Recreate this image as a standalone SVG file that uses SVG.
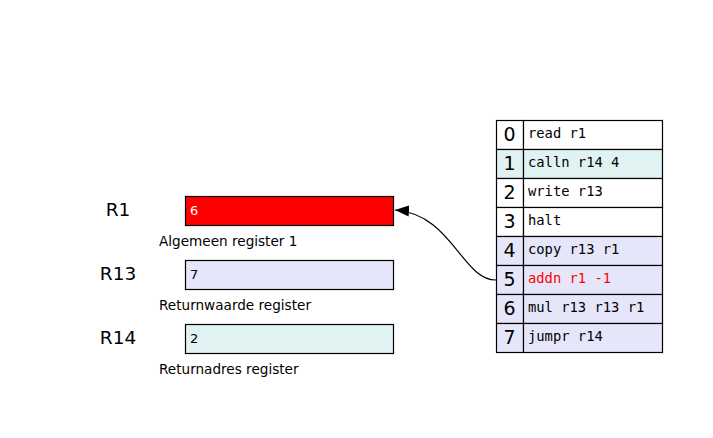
<svg xmlns="http://www.w3.org/2000/svg" width="713" height="438" viewBox="0 0 713 438">
<style>
.box{stroke:#000;stroke-width:1.2}
.reg{font-family:"DejaVu Sans",sans-serif;font-size:18.5px;fill:#000}
.cap{font-family:"DejaVu Sans",sans-serif;font-size:13.6px;fill:#000}
.val{font-family:"DejaVu Sans",sans-serif;font-size:13px;fill:#000}
.idx{font-family:"DejaVu Sans",sans-serif;font-size:19px;fill:#000;text-anchor:middle}
.code{font-family:"DejaVu Sans Mono",monospace;font-size:13.8px;fill:#000}
.w{fill:#fff}.c{fill:#e0f2f2}.l{fill:#e6e6fa}
</style>
<defs>
<marker id="ah" markerWidth="14" markerHeight="12" refX="14" refY="6" orient="auto" markerUnits="userSpaceOnUse">
<path d="M0,0.5 L14,6 L0,11.5 Z" fill="#000"/>
</marker>
</defs>
<rect width="713" height="438" fill="#fff"/>
<g id="R1">
<text class="reg" x="118" y="216" text-anchor="middle">R1</text>
<rect class="box" x="185.5" y="196.5" width="208" height="29" fill="#ff0000"/>
<text class="val" x="190" y="215" style="fill:#fff">6</text>
<text class="cap" x="159" y="246">Algemeen register 1</text>
</g>
<g id="R13">
<text class="reg" x="118" y="280" text-anchor="middle">R13</text>
<rect class="box l" x="185.5" y="260.5" width="208" height="29"/>
<text class="val" x="190" y="279">7</text>
<text class="cap" x="159" y="310">Returnwaarde register</text>
</g>
<g id="R14">
<text class="reg" x="118" y="344" text-anchor="middle">R14</text>
<rect class="box c" x="185.5" y="324.5" width="208" height="29"/>
<text class="val" x="190" y="343">2</text>
<text class="cap" x="159" y="374">Returnadres register</text>
</g>
<g id="program">
<rect class="box w" x="496.5" y="120.5" width="27" height="29"/><rect class="box w" x="523.5" y="120.5" width="139" height="29"/>
<rect class="box c" x="496.5" y="149.5" width="27" height="29"/><rect class="box c" x="523.5" y="149.5" width="139" height="29"/>
<rect class="box w" x="496.5" y="178.5" width="27" height="29"/><rect class="box w" x="523.5" y="178.5" width="139" height="29"/>
<rect class="box w" x="496.5" y="207.5" width="27" height="29"/><rect class="box w" x="523.5" y="207.5" width="139" height="29"/>
<rect class="box l" x="496.5" y="236.5" width="27" height="29"/><rect class="box l" x="523.5" y="236.5" width="139" height="29"/>
<rect class="box l" x="496.5" y="265.5" width="27" height="29"/><rect class="box l" x="523.5" y="265.5" width="139" height="29"/>
<rect class="box l" x="496.5" y="294.5" width="27" height="29"/><rect class="box l" x="523.5" y="294.5" width="139" height="29"/>
<rect class="box l" x="496.5" y="323.5" width="27" height="29"/><rect class="box l" x="523.5" y="323.5" width="139" height="29"/>
<text class="idx" x="509.5" y="141">0</text>
<text class="idx" x="509.5" y="170">1</text>
<text class="idx" x="509.5" y="199">2</text>
<text class="idx" x="509.5" y="228">3</text>
<text class="idx" x="509.5" y="257">4</text>
<text class="idx" x="509.5" y="286">5</text>
<text class="idx" x="509.5" y="315">6</text>
<text class="idx" x="509.5" y="344">7</text>
<text class="code" x="528" y="138">read r1</text>
<text class="code" x="528" y="167">calln r14 4</text>
<text class="code" x="528" y="196">write r13</text>
<text class="code" x="528" y="225">halt</text>
<text class="code" x="528" y="254">copy r13 r1</text>
<text class="code" x="528" y="283" style="fill:#ff0000">addn r1 -1</text>
<text class="code" x="528" y="312">mul r13 r13 r1</text>
<text class="code" x="528" y="341">jumpr r14</text>
</g>
<g id="connectors">
<path d="M496,280 C462,280 452,214 395,210" fill="none" stroke="#000" stroke-width="1.2" marker-end="url(#ah)"/>
</g>
</svg>
